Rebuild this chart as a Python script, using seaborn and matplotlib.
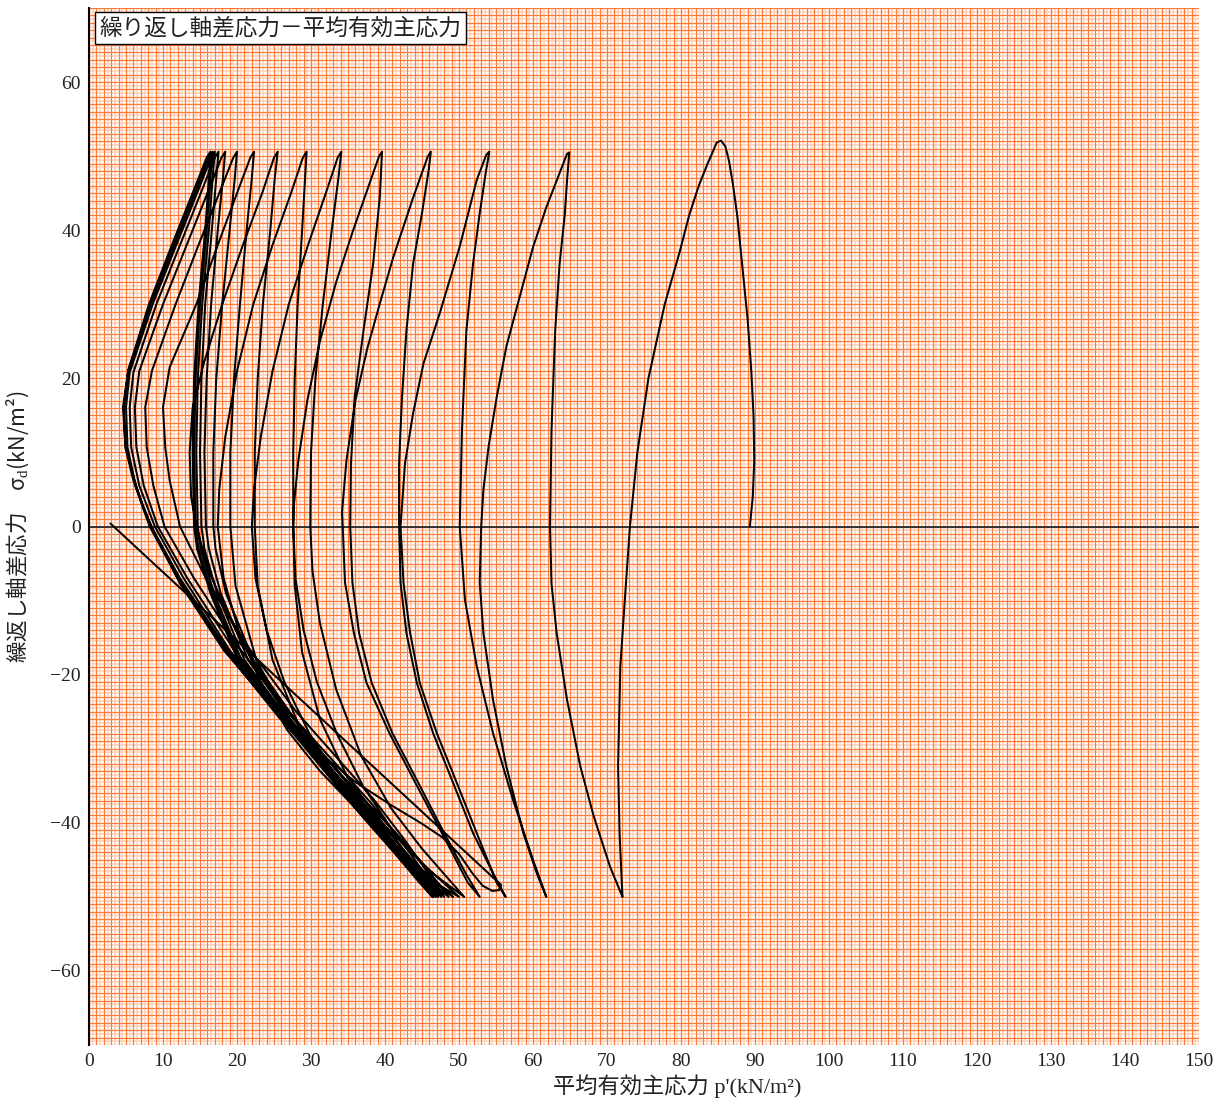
import numpy as np
import pandas as pd
import matplotlib
matplotlib.use("Agg")
import matplotlib.pyplot as plt
from matplotlib.ticker import MultipleLocator
import seaborn as sns

# STRESS PATH DATA (p' , sigma_d), one list per half cycle.

load_0 = [(89.3, 0.0), (89.7, 4.0), (89.9, 9.0), (89.8, 15.0), (89.5, 21.0), (89.0, 28.0),
          (88.2, 36.0), (87.6, 42.0), (87.0, 46.3), (86.5, 49.3), (86.0, 51.3), (85.4, 52.1)]

down_01 = [(84.8, 51.8), (84.3, 50.6), (83.6, 49.0), (82.4, 46.0), (81.1, 42.0), (79.8, 37.0),
           (77.8, 30.0), (75.6, 20.0), (74.1, 10.0), (73.1, 0.0), (72.4, -10.0), (71.8, -18.9),
           (71.5, -32.4), (71.7, -41.4), (72.0, -48.2), (72.1, -50.0)]
up_01 = [(71.8, -49.3), (70.4, -45.9), (68.2, -39.1), (66.4, -32.4), (64.6, -23.4), (63.2, -14.4),
         (62.5, -7.7), (62.3, 0.0), (62.5, 13.0), (63.0, 26.5), (63.6, 35.5), (64.3, 42.2),
         (64.6, 46.7), (64.9, 50.5)]

down_02 = [(64.6, 50.3), (63.2, 46.7), (61.8, 43.1), (60.0, 37.7), (58.2, 31.0), (56.4, 24.3),
           (55.1, 17.5), (54.0, 10.8), (53.3, 5.0), (53.0, 0.0), (52.8, -7.6), (53.3, -14.4),
           (54.6, -23.4), (56.4, -32.4), (58.7, -41.4), (60.5, -46.8), (61.8, -50.0)]
up_02 = [(60.0, -45.0), (57.3, -36.9), (54.6, -27.9), (52.4, -18.9), (50.8, -9.9), (50.1, 0.0),
         (50.4, 13.0), (51.0, 26.5), (51.9, 35.5), (52.8, 42.3), (53.6, 47.7), (54.1, 50.6)]

down_03 = [(53.7, 50.2), (52.4, 46.8), (50.1, 37.8), (47.4, 28.8), (45.2, 22.0), (43.8, 15.3),
           (42.7, 8.5), (42.1, 0.0), (42.5, -7.6), (43.4, -14.4), (44.7, -21.1), (47.0, -27.9),
           (49.7, -34.6), (52.4, -41.4), (55.1, -48.1), (56.3, -50.0)]
up_03 = [(54.6, -46.8), (51.9, -41.4), (49.2, -34.6), (46.5, -27.9), (44.3, -21.1), (42.9, -14.4),
         (42.1, -7.6), (41.9, 0.0), (41.9, 8.5), (42.3, 17.5), (42.9, 26.5), (43.8, 35.5),
         (45.0, 42.3), (45.9, 48.1), (46.2, 50.6)]

down_04 = [(45.8, 50.0), (43.8, 44.4), (41.1, 36.3), (39.3, 30.1), (37.6, 24.0), (36.0, 17.0),
           (34.8, 9.0), (34.2, 2.0), (34.6, -7.6), (35.8, -14.4), (37.5, -21.1), (40.6, -27.9),
           (44.1, -34.6), (47.7, -41.4), (51.2, -48.1), (52.8, -50.0)]
up_04 = [(51.0, -47.0), (48.0, -41.4), (44.5, -34.6), (41.0, -27.9), (38.2, -21.1), (36.5, -14.4),
         (35.6, -7.6), (35.3, 0.0), (35.4, 8.5), (35.9, 17.5), (37.1, 26.5), (38.4, 35.5),
         (39.3, 44.5), (39.6, 50.6)]

down_05 = [(39.2, 50.0), (37.8, 46.0), (35.7, 40.0), (33.4, 33.0), (31.2, 25.0), (29.5, 17.0),
           (28.3, 9.0), (27.7, 3.0), (27.6, 0.0), (27.9, -7.0), (29.0, -14.0), (30.8, -21.0),
           (33.5, -28.0), (37.0, -35.0), (41.0, -41.0), (46.0, -46.5), (50.7, -50.0)]
up_05 = [(48.5, -47.5), (45.0, -43.5), (40.8, -38.0), (36.8, -31.0), (33.4, -22.0), (31.2, -13.0),
         (30.2, -6.0), (29.9, 0.0), (30.0, 10.0), (30.6, 20.0), (31.6, 30.0), (32.8, 40.0),
         (33.7, 47.0), (34.1, 50.6)]

down_06 = [(33.6, 49.8), (32.0, 45.0), (29.6, 38.0), (27.0, 30.0), (24.8, 21.0), (23.2, 12.0),
           (22.3, 5.0), (22.0, 0.0), (22.5, -7.0), (24.0, -14.0), (26.4, -21.0), (29.8, -28.0),
           (33.8, -34.5), (38.3, -40.0), (42.8, -44.5), (46.6, -48.0), (50.0, -50.0)]
up_06 = [(47.8, -48.0), (44.0, -44.5), (39.6, -40.0), (35.0, -34.0), (31.2, -26.0), (28.8, -17.0),
         (27.8, -8.0), (27.6, 0.0), (27.6, 10.0), (27.8, 20.0), (28.2, 30.0), (28.8, 40.0),
         (29.2, 47.0), (29.4, 50.6)]

down_07 = [(28.9, 49.8), (27.3, 45.0), (24.8, 38.0), (22.2, 30.0), (20.0, 21.0), (18.4, 12.0),
           (17.6, 5.0), (17.4, 0.0), (18.2, -7.0), (20.2, -14.0), (23.2, -21.0), (26.8, -27.5),
           (31.2, -33.0), (36.0, -38.0), (40.8, -42.5), (45.2, -46.5), (49.2, -50.0)]
up_07 = [(47.0, -48.3), (43.2, -45.0), (38.5, -40.5), (33.5, -35.0), (28.8, -28.0), (24.8, -18.0),
         (22.8, -8.0), (22.4, 0.0), (22.4, 10.0), (22.8, 20.0), (23.5, 30.0), (24.5, 40.0),
         (25.1, 47.0), (25.5, 50.6)]

down_08 = [(25.0, 49.8), (23.4, 45.0), (20.8, 38.0), (18.0, 30.0), (15.5, 22.0), (14.0, 16.0),
           (13.6, 10.0), (13.8, 4.0), (14.5, 0.0), (16.2, -6.0), (18.8, -12.0), (22.3, -18.5),
           (26.8, -25.0), (31.8, -31.0), (36.8, -36.5), (41.6, -41.5), (45.5, -46.0), (48.6, -50.0)]
up_08 = [(46.5, -48.3), (42.6, -44.5), (37.6, -39.5), (32.5, -33.5), (27.5, -27.0), (22.6, -18.0),
         (19.8, -8.0), (19.1, 0.0), (19.1, 10.0), (19.6, 20.0), (20.4, 30.0), (21.3, 40.0),
         (22.0, 47.0), (22.3, 50.6)]

down_09 = [(21.8, 49.8), (20.0, 45.0), (17.4, 38.0), (14.5, 30.0), (10.9, 21.5), (10.0, 16.1),
           (10.3, 10.7), (10.9, 6.2), (12.3, 0.0), (15.8, -7.0), (21.3, -16.0), (28.0, -25.0),
           (34.2, -32.0), (38.6, -37.0), (42.8, -42.5), (45.6, -46.5), (48.0, -50.0)]
up_09 = [(46.2, -48.0), (42.8, -44.0), (38.5, -39.0), (33.5, -33.0), (27.8, -26.0), (22.2, -18.0),
         (18.5, -9.0), (17.1, -3.0), (16.8, 0.0), (16.8, 10.0), (17.2, 20.0), (18.0, 30.0),
         (19.0, 40.0), (19.7, 47.0), (20.0, 50.6)]

down_10 = [(19.5, 49.8), (17.6, 45.0), (14.8, 38.0), (11.7, 30.0), (8.5, 21.0), (7.6, 16.1),
           (7.8, 10.7), (8.7, 5.5), (10.2, 0.0), (14.2, -7.0), (20.2, -16.3), (27.2, -25.3),
           (33.5, -32.2), (38.0, -37.2), (42.2, -42.5), (45.1, -46.5), (47.6, -50.0)]
up_10 = [(45.8, -48.0), (42.4, -44.0), (38.0, -39.0), (33.0, -33.0), (27.2, -26.0), (21.5, -18.0),
         (17.8, -9.0), (16.2, -3.0), (15.8, 0.0), (15.6, 10.0), (15.9, 20.0), (16.5, 30.0),
         (17.4, 40.0), (18.1, 47.0), (18.4, 50.6)]

down_11 = [(17.9, 49.8), (16.0, 45.0), (13.2, 38.0), (10.0, 30.0), (6.8, 21.0), (6.2, 16.1),
           (6.4, 10.7), (7.4, 5.5), (9.3, 0.0), (13.3, -7.0), (19.5, -16.5), (26.6, -25.5),
           (32.9, -32.3), (37.5, -37.3), (41.7, -42.6), (44.7, -46.5), (47.2, -50.0)]
up_11 = [(45.4, -48.0), (42.0, -44.0), (37.6, -39.0), (32.6, -33.0), (26.8, -26.0), (21.0, -18.0),
         (17.3, -9.0), (15.6, -3.0), (15.2, 0.0), (15.0, 10.0), (15.2, 20.0), (15.7, 30.0),
         (16.6, 40.0), (17.2, 47.0), (17.5, 50.6)]

down_12 = [(17.0, 49.8), (15.1, 45.0), (12.3, 38.0), (9.1, 30.0), (6.0, 20.8), (5.5, 16.1),
           (5.7, 10.7), (6.8, 5.5), (8.9, 0.0), (12.8, -7.0), (19.0, -16.7), (26.2, -25.7),
           (32.5, -32.5), (37.1, -37.5), (41.3, -42.8), (44.4, -46.6), (46.9, -50.0)]
up_12 = [(45.1, -48.0), (41.7, -44.0), (37.3, -39.0), (32.3, -33.0), (26.5, -26.0), (20.6, -18.0),
         (16.9, -9.0), (15.1, -3.0), (14.7, 0.0), (14.5, 10.0), (14.7, 20.0), (15.3, 30.0),
         (16.2, 40.0), (16.7, 47.0), (17.0, 50.6)]

down_13 = [(16.5, 49.8), (14.6, 45.0), (11.8, 38.0), (8.6, 30.0), (5.5, 20.8), (5.0, 16.1),
           (5.2, 10.7), (6.3, 5.5), (8.4, 0.0), (12.3, -7.0), (18.7, -16.7), (25.9, -25.7),
           (32.2, -32.5), (36.8, -37.6), (41.0, -43.0), (44.1, -46.7), (46.6, -50.0)]
up_13 = [(44.8, -48.0), (41.4, -44.0), (37.0, -39.0), (32.0, -33.0), (26.2, -26.0), (20.3, -18.0),
         (16.6, -9.0), (14.8, -3.0), (14.4, 0.0), (14.2, 10.0), (14.4, 20.0), (15.0, 30.0),
         (15.9, 40.0), (16.4, 47.0), (16.7, 50.6)]

down_14 = [(16.2, 49.8), (14.3, 45.0), (11.5, 38.0), (8.3, 30.0), (5.3, 21.0), (4.7, 16.1),
           (4.9, 10.7), (6.0, 6.2), (8.2, 0.0), (12.0, -7.0), (18.4, -16.7), (25.6, -25.7),
           (31.9, -32.5), (36.5, -37.7), (40.8, -43.3), (43.9, -46.8), (46.4, -50.0)]
up_14 = [(44.6, -48.0), (41.2, -44.0), (36.8, -39.0), (31.8, -33.0), (26.0, -26.0), (20.1, -18.0),
         (16.4, -9.0), (14.6, -3.0), (14.2, 0.0), (14.0, 10.0), (14.2, 20.0), (14.8, 30.0),
         (15.7, 40.0), (16.2, 47.0), (16.4, 50.6)]

# last half cycle: ends in a hook near the bottom, then the record jumps back near p' = 3
down_15 = [(15.9, 49.8), (14.0, 45.0), (11.2, 38.0), (8.1, 30.0), (5.3, 21.1), (4.6, 16.1),
           (4.9, 11.2), (6.0, 6.7), (7.3, 2.6), (8.7, -0.5), (12.3, -7.7), (18.2, -16.7),
           (24.5, -24.0), (30.5, -30.0), (36.0, -34.5), (40.8, -37.6), (44.8, -40.0),
           (47.8, -42.0), (50.0, -44.2), (51.8, -46.8), (53.2, -48.5), (54.5, -49.2),
           (55.4, -49.1), (55.7, -48.4), (2.9, 0.4)]

path_segments = [load_0, down_01, up_01, down_02, up_02, down_03, up_03, down_04, up_04,
                 down_05, up_05, down_06, up_06, down_07, up_07, down_08, up_08, down_09, up_09,
                 down_10, up_10, down_11, up_11, down_12, up_12, down_13, up_13, down_14, up_14,
                 down_15]

path = pd.DataFrame([pt for seg in path_segments for pt in seg], columns=["p", "q"])

x_ticks = np.arange(0, 151, 10)
y_ticks = np.arange(-60, 61, 20)

# PLOT.

sns.set_theme(style="white")
plt.rcParams["font.family"] = ["Liberation Serif", "Noto Sans CJK JP"]
plt.rcParams["mathtext.fontset"] = "custom"
plt.rcParams["mathtext.rm"] = "Liberation Serif"

fig = plt.figure(figsize=(12.21, 10.99), dpi=100)
ax = fig.add_axes([89 / 1221, 54 / 1099, 1110 / 1221, 1037 / 1099])

ax.set_xlim(0, 150)
ax.set_ylim(-70, 70)

# graph paper: 1 unit orange lines, paler half-unit lines in between
ax.vlines(np.arange(0.5, 150, 1), -70, 70, colors="#FFD3BC", lw=1.1, zorder=0)
ax.hlines(np.arange(-69.5, 70, 1), 0, 150, colors="#FFD3BC", lw=1.1, zorder=0)
ax.xaxis.set_minor_locator(MultipleLocator(1))
ax.yaxis.set_minor_locator(MultipleLocator(1))
ax.grid(which="both", color="#FF7B3A", lw=0.9, zorder=0.5)
ax.set_axisbelow(True)

ax.axhline(0, color="#2a2a2a", lw=1.3, zorder=2)

sns.lineplot(data=path, x="p", y="q", sort=False, estimator=None, color="black",
             lw=1.45, ax=ax, zorder=3)

ax.set_xticks(x_ticks)
ax.set_yticks(y_ticks)
ax.set_xticklabels([str(v) for v in x_ticks])
ax.set_yticklabels([str(v).replace("-", "\u2212") for v in y_ticks])
ax.tick_params(which="both", length=0, labelsize=14, colors="#222222")
ax.tick_params(axis="x", pad=6)
ax.tick_params(axis="y", pad=6)

for side in ["top", "right", "bottom"]:
    ax.spines[side].set_visible(False)
ax.spines["left"].set_color("black")
ax.spines["left"].set_linewidth(1.5)

ax.set_xlabel("平均有効主応力 p'(kN/m²)", fontsize=16, color="#222222")
ax.xaxis.set_label_coords(0.53, -0.028)
ax.set_ylabel("繰返し軸差応力　σ$_\\mathrm{d}$(kN/m²)", fontsize=15.5, color="#222222",
              family="Noto Sans CJK JP")
ax.yaxis.set_label_coords(-0.052, 0.5)

ax.text(0.0095, 0.9915, "繰り返し軸差応力－平均有効主応力", transform=ax.transAxes,
        ha="left", va="top", fontsize=16.3, family="Noto Sans CJK JP", color="#222222", zorder=5,
        bbox=dict(boxstyle="square,pad=0.2", fc="white", ec="black", lw=1.0))

plt.savefig("out.png", dpi=100)
